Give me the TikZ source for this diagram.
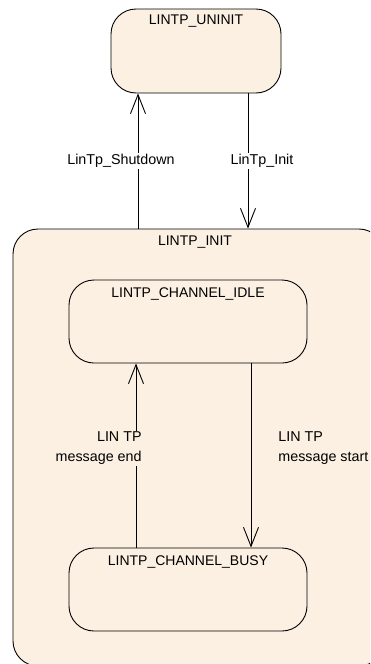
\documentclass[tikz,border=0pt]{standalone}
\usepackage{fontspec}
\setmainfont{Liberation Sans}
\usetikzlibrary{arrows.meta}
\definecolor{statefill}{RGB}{251,240,226}
\tikzset{
	state/.style={draw, fill=statefill, rounded corners=25pt, line width=0.9pt},
	trans/.style={line width=0.9pt},
	tip/.style={-{Straight Barb[length=19pt, width=15pt, line width=0.9pt]}},
	lbl/.style={font=\fontsize{14.3}{20}\selectfont, inner sep=1pt}
}
\begin{document}
\begin{tikzpicture}[x=1pt, y=-1pt, font=\fontsize{14}{17}\selectfont]
	\useasboundingbox (0,0) rectangle (370,664);
	\clip (0,0) rectangle (370,664);
	\node[state, minimum width=371, minimum height=437,
		label={[below, inner sep=0pt, yshift=-7, xshift=-3.5]north:LINTP\_INIT}] (init) at (198.5, 447.5) {};
	\node[state, minimum width=170, minimum height=84,
		label={[below, inner sep=0pt, yshift=-6]north:LINTP\_UNINIT}] (uninit) at (196, 51) {};
	\node[state, minimum width=238, minimum height=83,
		label={[below, inner sep=0pt, yshift=-8]north:LINTP\_CHANNEL\_IDLE}] (idle) at (188, 321.5) {};
	\node[state, minimum width=238, minimum height=83,
		label={[below, inner sep=0pt, yshift=-8]north:LINTP\_CHANNEL\_BUSY}] (busy) at (188, 589.5) {};

	\draw[trans, tip] (init.north -| 138,0) -- (uninit.south -| 138,0)
		node[lbl, pos=.5, fill=white, xshift=-17] {LinTp\_Shutdown};
	\draw[trans, tip] (uninit.south -| 248,0) -- (init.north -| 248,0)
		node[lbl, pos=.5, fill=white, xshift=14] {LinTp\_Init};
	\draw[trans, tip] (busy.north -| 136,0) -- (idle.south -| 136,0)
		node[lbl, pos=.5, fill=statefill, align=right, anchor=east, xshift=7, yshift=7] {LIN TP\\message end};
	\draw[trans, tip] (idle.south -| 251,0) -- (busy.north -| 251,0)
		node[lbl, pos=.5, align=left, anchor=west, xshift=26, yshift=7] {LIN TP\\message start};
\end{tikzpicture}
\end{document}
